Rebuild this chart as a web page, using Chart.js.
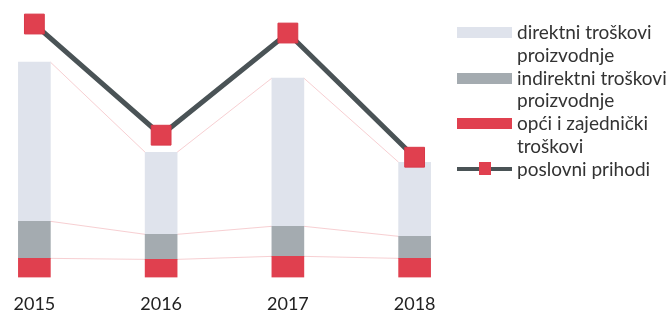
<!DOCTYPE html>
<html>
<head>
<meta charset="utf-8">
<script src="https://cdn.jsdelivr.net/npm/chart.js@4.4.0/dist/chart.umd.min.js"></script>
<style>
  body { margin: 0; background: #fff; }
  #wrap { position: relative; width: 668px; height: 311px; overflow: hidden; }
  #box { position: absolute; left: -29px; top: 0; width: 700px; height: 331px; }
  #legenda { position: absolute; left: 457px; top: 21px; font-family: Lato, sans-serif; font-size: 19px; line-height: 22.8px; color: #333; white-space: nowrap; }
  .stavka { display: flex; align-items: flex-start; }
  .kutija { width: 55px; height: 11px; margin-top: 6px; margin-right: 5px; flex: none; }
  .linija { width: 55px; height: 12px; margin-top: 5px; margin-right: 5px; flex: none; position: relative; }
  .linija:before { content: ''; position: absolute; left: 0; right: 0; top: 4px; height: 4px; background: #4a5356; }
  .linija:after { content: ''; position: absolute; left: 22px; top: -1px; width: 12px; height: 13px; background: #e0404f; }
</style>
</head>
<body>
<div id="wrap">
  <div id="box"><canvas id="myChart" width="700" height="331"></canvas></div>
  <div id="legenda">
    <div class="stavka"><span class="kutija" style="background:#dfe3ec"></span><span>direktni troškovi<br>proizvodnje</span></div>
    <div class="stavka"><span class="kutija" style="background:#a4abb0"></span><span>indirektni troškovi<br>proizvodnje</span></div>
    <div class="stavka"><span class="kutija" style="background:#e0404f"></span><span>opći i zajednički<br>troškovi</span></div>
    <div class="stavka"><span class="linija"></span><span>poslovni prihodi</span></div>
  </div>
</div>
<script>
// podaci (procjena iz slike)
var godine = ['2015', '2016', '2017', '2018']
var opciTroskovi = [19, 18, 21, 19]
var indirektniTroskovi = [37, 25, 30, 22]
var direktniTroskovi = [159, 82, 148, 74]
var poslovniPrihodi = [253, 142, 244, 120]

// tanke linije izmedju vrhova stupaca (kao u Excelu)
var spojnice = {
    id: 'spojnice',
    beforeDatasetsDraw(chart) {
        var ctx = chart.ctx
        ctx.save()
        ctx.strokeStyle = 'rgba(240, 160, 166, 0.5)'
        ctx.lineWidth = 1
        for (var i = 0; i < 3; i++) {
            var bars = chart.getDatasetMeta(i).data
            for (var j = 0; j < bars.length - 1; j++) {
                var a = bars[j], b = bars[j + 1]
                ctx.beginPath()
                ctx.moveTo(a.x + a.width / 2, a.y)
                ctx.lineTo(b.x - b.width / 2, b.y)
                ctx.stroke()
            }
        }
        ctx.restore()
    }
}

var ctx = document.getElementById('myChart').getContext('2d')
var myChart = new Chart(ctx, {
    type: 'bar',
    data: {
        labels: godine,
        datasets: [
            { label: 'opći i zajednički troškovi', data: opciTroskovi, backgroundColor: '#e0404f', stack: 'troskovi', order: 1, barThickness: 32 },
            { label: 'indirektni troškovi proizvodnje', data: indirektniTroskovi, backgroundColor: '#a4abb0', stack: 'troskovi', order: 1, barThickness: 32 },
            { label: 'direktni troškovi proizvodnje', data: direktniTroskovi, backgroundColor: '#dfe3ec', stack: 'troskovi', order: 1, barThickness: 32 },
            {
                type: 'line', label: 'poslovni prihodi', data: poslovniPrihodi, stack: 'prihodi', order: 0,
                borderColor: '#4a5356', borderWidth: 5,
                pointStyle: 'rect', pointRadius: 14, pointHoverRadius: 14,
                pointBackgroundColor: '#e0404f', pointBorderColor: '#d93848', pointBorderWidth: 1,
                clip: false
            }
        ]
    },
    options: {
        responsive: false,
        animation: false,
        maintainAspectRatio: false,
        layout: { autoPadding: false, padding: { left: 0, right: 193, top: 0, bottom: 0 } },
        plugins: { legend: { display: false }, tooltip: { enabled: false } },
        scales: {
            x: {
                stacked: true,
                grid: { display: false, drawTicks: false },
                border: { display: false },
                ticks: { color: '#222', font: { family: 'Lato', size: 18 }, padding: 16, maxRotation: 0, autoSkip: false }
            },
            y: {
                stacked: true,
                display: false,
                min: 0,
                max: 277
            }
        }
    },
    plugins: [spojnice]
})
</script>
</body>
</html>
